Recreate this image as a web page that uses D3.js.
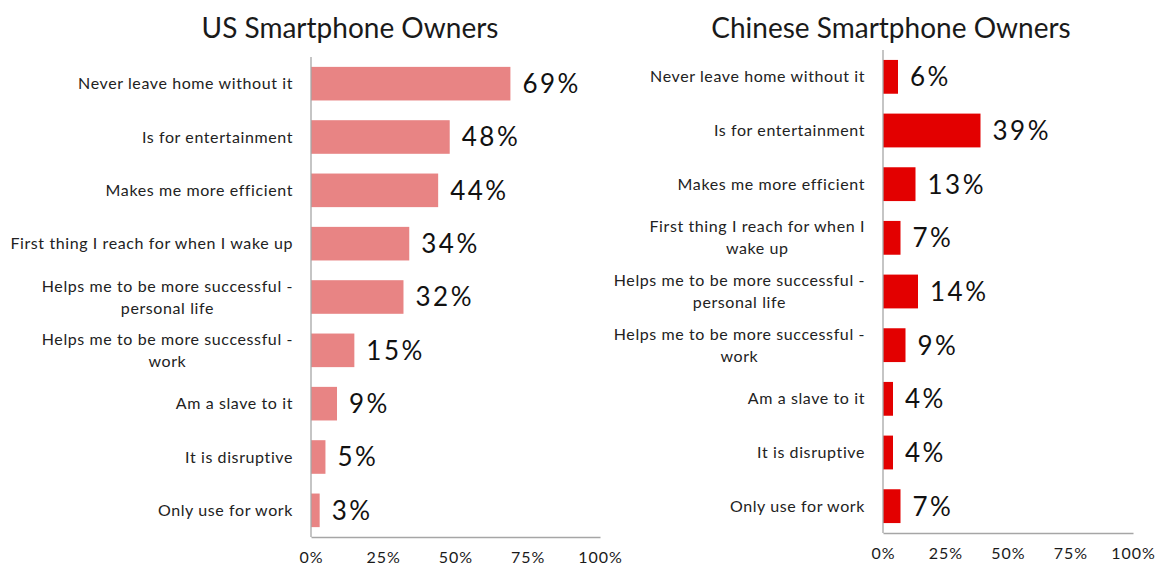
<!DOCTYPE html>
<html>
<head>
<meta charset="utf-8">
<script src="https://cdn.jsdelivr.net/npm/d3@7"></script>
<style>
  html, body { margin: 0; padding: 0; background: #fff; }
  svg { display: block; }
  text { font-family: "Lato", "Open Sans", sans-serif; fill: #1a1a1a; }
</style>
</head>
<body>
<svg id="chart" width="1162" height="570"></svg>
<script>
// Survey answers: share of smartphone owners agreeing with each statement
const statements = [
  "Never leave home without it",
  "Is for entertainment",
  "Makes me more efficient",
  "First thing I reach for when I wake up",
  "Helps me to be more successful - personal life",
  "Helps me to be more successful - work",
  "Am a slave to it",
  "It is disruptive",
  "Only use for work"
];
const usLabelLines = [
  ["Never leave home without it"],
  ["Is for entertainment"],
  ["Makes me more efficient"],
  ["First thing I reach for when I wake up"],
  ["Helps me to be more successful -", "personal life"],
  ["Helps me to be more successful -", "work"],
  ["Am a slave to it"],
  ["It is disruptive"],
  ["Only use for work"]
];
const cnLabelLines = [
  ["Never leave home without it"],
  ["Is for entertainment"],
  ["Makes me more efficient"],
  ["First thing I reach for when I", "wake up"],
  ["Helps me to be more successful -", "personal life"],
  ["Helps me to be more successful -", "work"],
  ["Am a slave to it"],
  ["It is disruptive"],
  ["Only use for work"]
];
const usValues = [69, 48, 44, 34, 32, 15, 9, 5, 3];
const cnValues = [6, 39, 13, 7, 14, 9, 4, 4, 7];
const tickValues = [0, 25, 50, 75, 100];

const svg = d3.select("#chart");

function drawPanel(cfg) {
  const g = svg.append("g");
  const x = d3.scaleLinear().domain([0, 100]).range([cfg.x0, cfg.x1]);
  const y = d3.scaleBand().domain(statements).range([cfg.yTop, cfg.yBottom]).paddingInner(0.37).paddingOuter(0.185);

  // title
  g.append("text")
    .attr("x", cfg.titleX).attr("y", 38)
    .attr("text-anchor", "middle")
    .style("font-size", "28px")
    .text(cfg.title);

  // bars
  g.selectAll("rect.bar").data(cfg.values).join("rect")
    .attr("class", "bar")
    .attr("x", x(0))
    .attr("y", (d, i) => y(statements[i]))
    .attr("width", d => x(d) - x(0))
    .attr("height", y.bandwidth())
    .attr("fill", cfg.color);

  // value labels
  g.selectAll("text.val").data(cfg.values).join("text")
    .attr("class", "val")
    .attr("x", d => x(d) + 12)
    .attr("y", (d, i) => y(statements[i]) + y.bandwidth() / 2)
    .attr("dy", "0.36em")
    .style("font-size", "26px")
    .style("letter-spacing", "2.5px")
    .style("fill", "#111")
    .text(d => d + "%");

  // category labels: block right-aligned at the axis, lines centred within it
  cfg.labels.forEach((lines, i) => {
    const cy = y(statements[i]) + y.bandwidth() / 2;
    const lh = 22;
    const t = g.append("text")
      .style("font-size", "16px")
      .style("letter-spacing", "0.6px")
      .style("fill", "#222")
      .attr("text-anchor", "middle");
    const spans = lines.map((ln, k) => t.append("tspan")
      .attr("y", cy + (k - (lines.length - 1) / 2) * lh)
      .attr("dy", "0.35em")
      .text(ln));
    const w = d3.max(spans, s => s.node().getComputedTextLength());
    spans.forEach(s => s.attr("x", x(0) - 18 - w / 2));
  });

  // bottom axis
  const xAxis = d3.axisBottom(x).tickValues(tickValues).tickSize(0).tickPadding(15)
    .tickFormat(d => d + "%");
  const ax = g.append("g").attr("transform", `translate(0,${cfg.yBottom})`).call(xAxis);
  ax.select(".domain").attr("stroke", "#a6a6a6").attr("stroke-width", 1.3);
  ax.selectAll("text")
    .style("font-size", "16px")
    .style("font-family", "Lato, sans-serif")
    .style("letter-spacing", "1px")
    .attr("fill", "#333");

  // vertical axis line
  g.append("line")
    .attr("x1", x(0)).attr("x2", x(0))
    .attr("y1", cfg.yTop).attr("y2", cfg.yBottom)
    .attr("stroke", "#a6a6a6").attr("stroke-width", 1.3);
}

drawPanel({
  title: "US Smartphone Owners", titleX: 350,
  x0: 311, x1: 600, yTop: 57, yBottom: 537,
  values: usValues, labels: usLabelLines, color: "#e88484"
});
drawPanel({
  title: "Chinese Smartphone Owners", titleX: 891,
  x0: 883, x1: 1133, yTop: 50, yBottom: 533,
  values: cnValues, labels: cnLabelLines, color: "#e30000"
});
</script>
</body>
</html>
